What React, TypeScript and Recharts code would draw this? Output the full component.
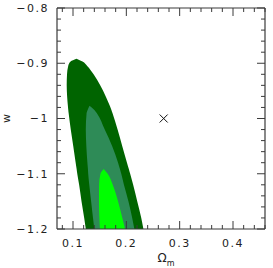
import React from 'react';
import { ComposedChart, Area, XAxis, YAxis, ReferenceDot, Label } from 'recharts';

// w levels (vertical axis) at which the contour edges were read
const wLevels = [-1.2, -1.18, -1.15, -1.12, -1.1, -1.0914, -1.08, -1.05, -1.02, -0.99, -0.985, -0.977, -0.96, -0.94, -0.92, -0.905, -0.897, -0.892];

// outer (dark green) contour: left / right Omega_m edge
const outerLeft = [0.124, 0.121, 0.116, 0.1115, 0.108, 0.1068, 0.105, 0.1005, 0.0958, 0.0918, 0.0912, 0.0904, 0.089, 0.0882, 0.0888, 0.091, 0.0955, 0.1065];
const outerRight = [0.232, 0.228, 0.2205, 0.2128, 0.2072, 0.2047, 0.2012, 0.1924, 0.1836, 0.174, 0.1722, 0.169, 0.1614, 0.151, 0.1386, 0.1266, 0.1178, 0.1065];

// middle (sea green) contour
const middleLeft = [0.14, 0.1375, 0.134, 0.1305, 0.1285, 0.128, 0.127, 0.125, 0.124, 0.1255, 0.1272, 0.131, null, null, null, null, null, null];
const middleRight = [0.215, 0.211, 0.204, 0.1955, 0.1905, 0.188, 0.1845, 0.1735, 0.1595, 0.1445, 0.1405, 0.131, null, null, null, null, null, null];

// inner (bright green) contour
const innerLeft = [0.1505, 0.1495, 0.1487, 0.149, 0.1515, 0.1576, null, null, null, null, null, null, null, null, null, null, null, null];
const innerRight = [0.1975, 0.1925, 0.1845, 0.1745, 0.165, 0.1576, null, null, null, null, null, null, null, null, null, null, null, null];

// fiducial model marker
const fiducialOm = 0.27;
const fiducialW = -1;

// ticks
const xTicks = [0.08, 0.1, 0.12, 0.14, 0.16, 0.18, 0.2, 0.22, 0.24, 0.26, 0.28, 0.3, 0.32, 0.34, 0.36, 0.38, 0.4, 0.42, 0.44, 0.46];
const xMajorTicks = [0.1, 0.2, 0.3, 0.4];
const xTickLabels = ['0.1', '0.2', '0.3', '0.4'];
const yTicks = [-1.2, -1.18, -1.16, -1.14, -1.12, -1.1, -1.08, -1.06, -1.04, -1.02, -1, -0.98, -0.96, -0.94, -0.92, -0.9, -0.88, -0.86, -0.84, -0.82, -0.8];
const yMajorTicks = [-1.2, -1.1, -1, -0.9, -0.8];
const yTickLabels = ['\u22121.2', '\u22121.1', '\u22121', '\u22120.9', '\u22120.8'];

const data = wLevels.map((w, i) => ({
  w,
  outer: outerLeft[i] == null ? null : [outerLeft[i], outerRight[i]],
  middle: middleLeft[i] == null ? null : [middleLeft[i], middleRight[i]],
  inner: innerLeft[i] == null ? null : [innerLeft[i], innerRight[i]],
}));

const axisColor = '#3a3a3a';
const textColor = '#222';
const font = '"DejaVu Sans", sans-serif';
const MAJOR = 8;
const MINOR = 4;

const findMajor = (arr: number[], v: number) => arr.findIndex((m) => Math.abs(m - v) < 1e-9);

const XTickBottom = (props: any) => {
  const { x, y, payload } = props;
  const idx = findMajor(xMajorTicks, payload.value);
  return (
    <g>
      <line x1={x} x2={x} y1={y} y2={y - (idx >= 0 ? MAJOR : MINOR)} stroke={axisColor} strokeWidth={1} />
      {idx >= 0 && (
        <text x={x} y={y + 18} textAnchor="middle" fill={textColor} fontSize={11} fontFamily={font} letterSpacing={1.5}>
          {xTickLabels[idx]}
        </text>
      )}
    </g>
  );
};

const XTickTop = (props: any) => {
  const { x, y, payload } = props;
  const idx = findMajor(xMajorTicks, payload.value);
  return <line x1={x} x2={x} y1={y} y2={y + (idx >= 0 ? MAJOR : MINOR)} stroke={axisColor} strokeWidth={1} />;
};

const YTickLeft = (props: any) => {
  const { x, y, payload } = props;
  const idx = findMajor(yMajorTicks, payload.value);
  return (
    <g>
      <line x1={x} x2={x + (idx >= 0 ? MAJOR : MINOR)} y1={y} y2={y} stroke={axisColor} strokeWidth={1} />
      {idx >= 0 && (
        <text x={x - 8} y={y} dy="0.36em" textAnchor="end" fill={textColor} fontSize={11} fontFamily={font} letterSpacing={1.5}>
          {yTickLabels[idx]}
        </text>
      )}
    </g>
  );
};

const YTickRight = (props: any) => {
  const { x, y, payload } = props;
  const idx = findMajor(yMajorTicks, payload.value);
  return <line x1={x} x2={x - (idx >= 0 ? MAJOR : MINOR)} y1={y} y2={y} stroke={axisColor} strokeWidth={1} />;
};

const CrossShape = (props: any) => {
  const { cx, cy } = props;
  const s = 4;
  return (
    <g>
      <line x1={cx - s} y1={cy - s} x2={cx + s} y2={cy + s} stroke="#111" strokeWidth={1} />
      <line x1={cx - s} y1={cy + s} x2={cx + s} y2={cy - s} stroke="#111" strokeWidth={1} />
    </g>
  );
};

const YTitle = (props: any) => {
  const vb = props.viewBox;
  const cx = vb.x + 6;
  const cy = vb.y + vb.height / 2;
  return (
    <text x={cx} y={cy} transform={`rotate(-90 ${cx} ${cy})`} textAnchor="middle" dominantBaseline="central" fill={textColor} fontSize={11} fontFamily={font}>
      w
    </text>
  );
};

const XTitle = (props: any) => {
  const vb = props.viewBox;
  const cx = vb.x + vb.width / 2 + 5;
  return (
    <text x={cx} y={vb.y + 33} textAnchor="middle" fill={textColor} fontSize={12} fontFamily={font}>
      <tspan>Ω</tspan>
      <tspan dy={4} fontSize={8}>m</tspan>
    </text>
  );
};

export default function App() {
  return (
    <div style={{ position: 'absolute', left: 0, top: 0, width: 273, height: 268, background: '#fff' }}>
      <ComposedChart
        width={273}
        height={268}
        data={data}
        layout="vertical"
        margin={{ top: 7, right: 7, bottom: 0, left: 0 }}
      >
        <XAxis
          xAxisId={0}
          type="number"
          orientation="bottom"
          domain={[0.07, 0.46]}
          allowDataOverflow
          ticks={xTicks}
          interval={0}
          height={39}
          tickSize={0}
          tickMargin={0}
          tickLine={false}
          axisLine={{ stroke: axisColor, strokeWidth: 1.2 }}
          tick={XTickBottom}
        >
          <Label content={XTitle} />
        </XAxis>
        <XAxis
          xAxisId="top"
          type="number"
          orientation="top"
          domain={[0.07, 0.46]}
          allowDataOverflow
          ticks={xTicks}
          interval={0}
          height={1}
          tickSize={0}
          tickMargin={0}
          tickLine={false}
          axisLine={{ stroke: axisColor, strokeWidth: 1.2 }}
          tick={XTickTop}
        />
        <YAxis
          yAxisId={0}
          type="number"
          dataKey="w"
          orientation="left"
          reversed
          domain={[-1.2, -0.8]}
          allowDataOverflow
          ticks={yTicks}
          interval={0}
          width={57}
          tickSize={0}
          tickMargin={0}
          tickLine={false}
          axisLine={{ stroke: axisColor, strokeWidth: 1.2 }}
          tick={YTickLeft}
        >
          <Label content={YTitle} />
        </YAxis>
        <YAxis
          yAxisId="right"
          type="number"
          dataKey="w"
          orientation="right"
          reversed
          domain={[-1.2, -0.8]}
          allowDataOverflow
          ticks={yTicks}
          interval={0}
          width={1}
          tickSize={0}
          tickMargin={0}
          tickLine={false}
          axisLine={{ stroke: axisColor, strokeWidth: 1.2 }}
          tick={YTickRight}
        />
        <Area
          xAxisId="top"
          yAxisId="right"
          dataKey="outer"
          type="monotone"
          fill="none"
          fillOpacity={0}
          stroke="none"
          isAnimationActive={false}
        />
        <Area
          xAxisId={0}
          yAxisId={0}
          dataKey="outer"
          type="monotone"
          fill="#006400"
          fillOpacity={1}
          stroke="none"
          isAnimationActive={false}
        />
        <Area
          xAxisId={0}
          yAxisId={0}
          dataKey="middle"
          type="monotone"
          fill="#2E8B57"
          fillOpacity={1}
          stroke="none"
          isAnimationActive={false}
        />
        <Area
          xAxisId={0}
          yAxisId={0}
          dataKey="inner"
          type="monotone"
          fill="#00FF00"
          fillOpacity={1}
          stroke="none"
          isAnimationActive={false}
        />
        <ReferenceDot xAxisId={0} yAxisId={0} x={fiducialOm} y={fiducialW} r={4} shape={CrossShape} />
      </ComposedChart>
    </div>
  );
}
